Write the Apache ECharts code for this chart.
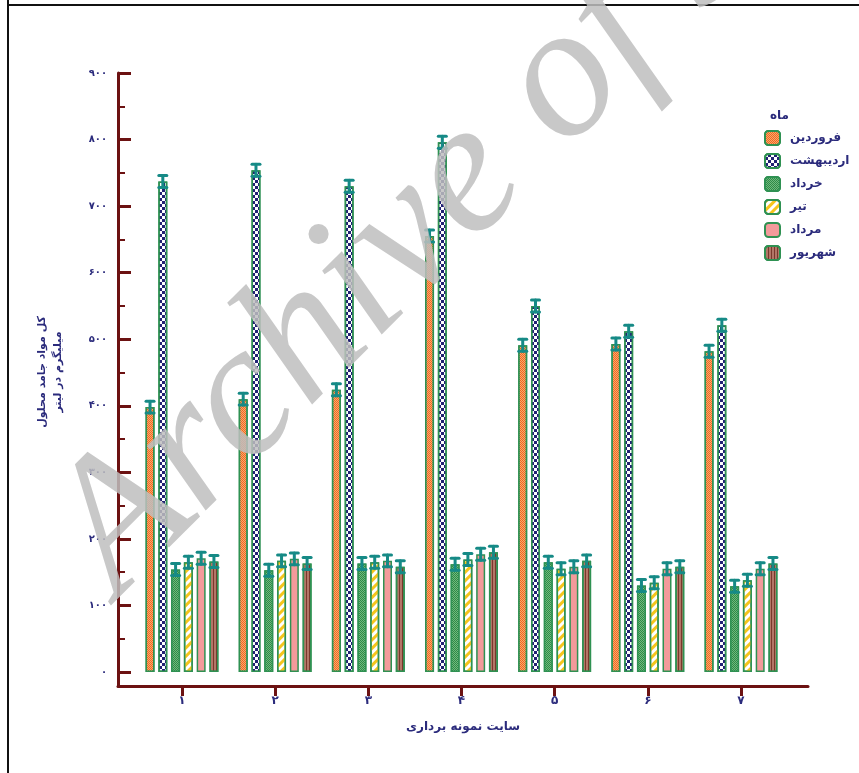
<!DOCTYPE html>
<html>
<head>
<meta charset="utf-8">
<script src="https://cdn.jsdelivr.net/npm/echarts@6/dist/echarts.min.js"></script>
<style>
html,body{margin:0;padding:0;background:#fff;}
#chart{width:859px;height:773px;}
</style>
</head>
<body>
<div id="chart"></div>
<script>
// ---- data ----
const categories = ['1', '2', '3', '4', '5', '6', '7'];
const seriesNames = ['فروردین', 'اردیبهشت', 'خرداد', 'تیر', 'مرداد', 'شهریور'];
const farvardin   = [398, 410, 424, 655, 491, 493, 482];
const ordibehesht = [737, 754, 730, 796, 550, 512, 521];
const khordad     = [154, 153, 163, 162, 165, 130, 129];
const tir         = [165, 167, 165, 169, 155, 134, 138];
const mordad      = [171, 170, 167, 177, 158, 155, 155];
const shahrivar   = [166, 163, 158, 180, 167, 158, 163];
const errFarvardin   = [9, 9, 9, 9, 9, 9, 9];
const errOrdibehesht = [9, 9, 9, 9, 9, 9, 9];
const errKhordad     = [9, 9, 9, 9, 9, 9, 9];
const errTir         = [9, 9, 9, 9, 9, 9, 9];
const errMordad      = [9, 9, 9, 9, 9, 9, 9];
const errShahrivar   = [9, 9, 9, 9, 9, 9, 9];
const yTickValues  = [0, 100, 200, 300, 400, 500, 600, 700, 800, 900];
const yMinorValues = [50, 150, 250, 350, 450, 550, 650, 750, 850];
const yMin = -21, yMax = 900;
const legendTitle = 'ماه';
const xTitle = 'سایت نمونه برداری';
const yTitle1 = 'کل مواد جامد محلول';
const yTitle2 = 'میلیگرم در لیتر';

const values = [farvardin, ordibehesht, khordad, tir, mordad, shahrivar];
const errors = [errFarvardin, errOrdibehesht, errKhordad, errTir, errMordad, errShahrivar];

// ---- styles ----
const FONT = '"DejaVu Sans", sans-serif';
const NAVY = '#2b2b7c';
const MAROON = '#6c1212';
const BORDER = '#2f9152';
const ERR = '#168a86';
const BAR_W = 9;
const BAR_GAP = 0.42;

const fa = s => String(s).replace(/\d/g, d => '۰۱۲۳۴۵۶۷۸۹'[d]);

const styles = [
  { color: '#f2691f', decal: { symbol: 'rect', symbolSize: 1, dashArrayX: [[1, 1], [0, 1, 1, 0]], dashArrayY: [1, 0], color: 'rgba(250,190,140,0.75)' } },
  { color: '#ffffff', decal: { symbol: 'rect', symbolSize: 1, dashArrayX: [[3, 3], [0, 3, 3, 0]], dashArrayY: [3, 0], color: '#222274' } },
  { color: '#2f8a47', decal: { symbol: 'rect', symbolSize: 1, dashArrayX: [[1, 1], [0, 1, 1, 0]], dashArrayY: [1, 0], color: 'rgba(140,205,150,0.7)' } },
  { color: '#ffffff', decal: { symbol: 'rect', symbolSize: 1, dashArrayX: [1, 0], dashArrayY: [2.2, 2.2], rotation: -Math.PI / 4, color: '#f5c51c' } },
  { color: '#f39a9b' },
  { color: '#b37667', decal: { symbol: 'rect', symbolSize: 1, dashArrayX: [1, 2], dashArrayY: [1, 0], color: '#7a382c' } }
];

const series = [];
seriesNames.forEach((name, i) => {
  series.push({
    name: name,
    type: 'bar',
    xAxisIndex: 1,
    yAxisIndex: 2,
    barWidth: BAR_W,
    barGap: (BAR_GAP * 100) + '%',
    data: values[i],
    itemStyle: Object.assign({ borderColor: BORDER, borderWidth: 1.5 }, styles[i]),
    z: 2
  });
});
seriesNames.forEach((name, i) => {
  series.push({
    name: 'err' + i,
    type: 'custom',
    xAxisIndex: 1,
    yAxisIndex: 2,
    z: 5,
    data: values[i].map((v, k) => [k, v, errors[i][k]]),
    renderItem: function (params, api) {
      const c = api.value(0), v = api.value(1), e = api.value(2);
      const pitch = BAR_W * (1 + BAR_GAP);
      const off = (i - (seriesNames.length - 1) / 2) * pitch;
      const top = api.coord([c, v + e]);
      const bot = api.coord([c, v - e]);
      const x = top[0] + off;
      const hw = 4;
      const st = { stroke: ERR, lineWidth: 3, lineCap: 'round' };
      return {
        type: 'group',
        children: [
          { type: 'line', shape: { x1: x, y1: top[1], x2: x, y2: bot[1] }, style: st },
          { type: 'line', shape: { x1: x - hw, y1: top[1], x2: x + hw, y2: top[1] }, style: st },
          { type: 'line', shape: { x1: x - hw, y1: bot[1], x2: x + hw, y2: bot[1] }, style: st }
        ]
      };
    }
  });
});

const chart = echarts.init(document.getElementById('chart'), null, { renderer: 'canvas' });
chart.setOption({
  animation: false,
  backgroundColor: '#ffffff',
  grid: [
    { left: 118, right: 51, top: 73, bottom: 87 },
    { left: 135.4, right: 71.4, top: 73, bottom: 87 }
  ],
  xAxis: [
    {
      type: 'value', gridIndex: 0, min: 0, max: 1,
      axisLine: { show: true, onZero: false, lineStyle: { color: MAROON, width: 3 } },
      axisTick: { show: false }, axisLabel: { show: false }, splitLine: { show: false }
    },
    {
      type: 'category', gridIndex: 1, data: categories,
      axisLine: { show: false, onZero: false },
      axisTick: { show: true, alignWithLabel: true, length: 10, lineStyle: { color: MAROON, width: 3 } },
      axisLabel: { margin: 9, color: NAVY, fontFamily: FONT, fontWeight: 'bold', fontSize: 12, formatter: v => fa(v) },
      splitLine: { show: false }
    }
  ],
  yAxis: [
    {
      type: 'value', gridIndex: 0, min: yMin, max: yMax,
      axisLine: { show: true, onZero: false, lineStyle: { color: MAROON, width: 3 } },
      axisTick: { show: true, inside: true, length: 13, customValues: yTickValues, lineStyle: { color: MAROON, width: 3 } },
      axisLabel: { customValues: yTickValues, margin: 11, color: NAVY, fontFamily: FONT, fontWeight: 'bold', fontSize: 10, formatter: v => fa(v) },
      splitLine: { show: false }
    },
    {
      type: 'value', gridIndex: 0, min: yMin, max: yMax, position: 'left',
      axisLine: { show: false, onZero: false },
      axisTick: { show: true, inside: true, length: 7, customValues: yMinorValues, lineStyle: { color: MAROON, width: 2 } },
      axisLabel: { show: false },
      splitLine: { show: false }
    },
    {
      type: 'value', gridIndex: 1, min: yMin, max: yMax, show: false,
      splitLine: { show: false }
    }
  ],
  legend: {
    orient: 'vertical',
    left: 759,
    top: 125,
    itemWidth: 15,
    itemHeight: 14,
    itemGap: 7,
    data: seriesNames,
    textStyle: { color: NAVY, fontFamily: FONT, fontWeight: 'bold', fontSize: 12, lineHeight: 14, padding: [0, 0, 0, 5] }
  },
  graphic: [
    { type: 'line', shape: { x1: 8, y1: 0, x2: 8, y2: 773 }, style: { stroke: '#111', lineWidth: 2 }, z: 0 },
    { type: 'line', shape: { x1: 8, y1: 5, x2: 859, y2: 5 }, style: { stroke: '#111', lineWidth: 2 }, z: 0 },
    { type: 'text', left: 770, top: 110, style: { text: legendTitle, fill: NAVY, font: 'bold 12px ' + FONT } },
    { type: 'text', x: 463, y: 727, style: { text: xTitle, fill: NAVY, font: 'bold 12px ' + FONT, align: 'center', verticalAlign: 'middle' } },
    { type: 'text', x: 42, y: 372, rotation: Math.PI / 2, style: { text: yTitle1, fill: NAVY, font: 'bold 11px ' + FONT, align: 'center', verticalAlign: 'middle' } },
    { type: 'text', x: 58, y: 372, rotation: Math.PI / 2, style: { text: yTitle2, fill: NAVY, font: 'bold 11px ' + FONT, align: 'center', verticalAlign: 'middle' } },
    { type: 'text', x: 150, y: 630, rotation: 45 * Math.PI / 180, z: 100,
      style: { text: 'Archive of SID', fill: 'rgba(190,190,190,0.85)', font: 'italic 190px "Liberation Serif", serif', align: 'left', verticalAlign: 'bottom' } }
  ],
  series: series
});
</script>
</body>
</html>
